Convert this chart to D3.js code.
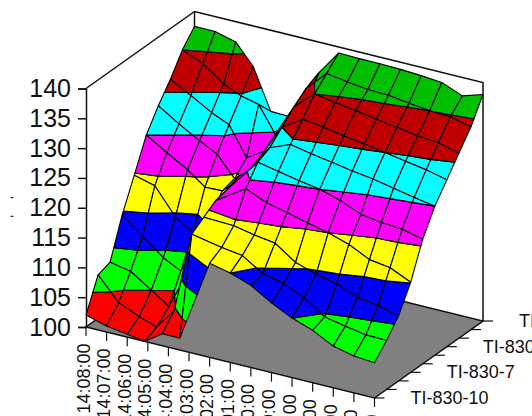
<!DOCTYPE html>
<html>
<head>
    <meta charset="utf-8">
    <title>Surface chart</title>
    <script src="https://d3js.org/d3.v7.min.js"></script>
    <style>
        html, body { margin: 0; padding: 0; background: #fff; overflow: hidden; }
        svg { display: block; }
        text { font-family: "Liberation Sans", Arial, sans-serif; fill: #111; }
    </style>
</head>
<body>
    <div id="chart"></div>
    <script>
        const timeLabels = ["14:08:00", "14:07:00", "14:06:00", "14:05:00", "14:04:00", "14:03:00", "14:02:00", "14:01:00",
            "14:00:00", "13:59:00", "13:58:00", "13:57:00", "13:56:00", "13:55:00", "13:54:00"];
        const tagLabels = ["TI-830-10", "TI-830-9", "TI-830-8", "TI-830-7", "TI-830-6", "TI-830-5", "TI-830-4", "TI-830-3", "TI-830-2", "TI-830-1"];
        const shownTags = ["TI-830-10", "TI-830-7", "TI-830-4", "TI-830-1"];
        const zTicks = [100, 105, 110, 115, 120, 125, 130, 135, 140];
        const bandColors = ["#ff0000", "#00ff00", "#0000ff", "#ffff00", "#ff00ff", "#00ffff", "#c00000", "#00c000"];

        // where the surface columns sit along the time axis, in minutes after 14:08
        const surfaceTimes = [0, 1, 2, 2.85, 3.7, 4.55, 6, 7, 8, 9, 10, 11, 12, 13, 14];

        // one array per column, values run from TI-830-10 (front) to TI-830-1 (back)
        const z1408 = [102, 107.3, 108, 114.5, 119.7, 125, 128.5, 131.5, 135, 137.5];
        const z1407 = [101, 103.5, 107.3, 111.8, 118.8, 122.9, 126.3, 129.6, 133.5, 137.5];
        const z1406 = [100.5, 102, 105, 109, 114.4, 120.9, 124.3, 127.6, 131, 136.6];
        const z1405 = [100, 101, 103, 107.5, 112.5, 118.7, 122.8, 126.3, 129.7, 133.2];
        const z1404 = [102, 104.5, 109, 113.4, 116.4, 118.8, 119.4, 121.5, 129, 126.4];
        const z1403 = [102, 118, 119.4, 120.8, 121.3, 121.5, 121.8, 123.3, 124.4, 126.3];
        const z1402 = [115.8, 117, 119.2, 124, 127, 128, 130, 132, 133.6, 134.7];
        const z1401 = [115, 116.5, 118.5, 122.5, 126.3, 129.4, 132.2, 135, 137, 139];
        const z1400 = [113.8, 114.3, 118, 121.7, 125.6, 128.7, 131.7, 134.4, 136.4, 138.9];
        const z1359 = [111.7, 113.5, 115.6, 120.8, 125, 128.1, 131.1, 133.9, 136, 138.9];
        const z1358 = [110, 112, 114.5, 120, 124, 127.5, 130.6, 133.3, 135.9, 138.8];
        const z1357 = [108.8, 109.6, 113.7, 118.9, 122.5, 127, 130, 132.8, 135.4, 138.6];
        const z1356 = [107, 108.9, 112.3, 117.2, 122, 126.3, 129.4, 132.2, 135, 138.3];
        const z1355 = [106.2, 108.3, 111.8, 116.7, 121.7, 125.6, 128.8, 131.9, 134.8, 136.9];
        const z1354 = [105.9, 108.2, 110.9, 115.1, 120.9, 125, 128, 131, 134, 138];
        const surface = [z1408, z1407, z1406, z1405, z1404, z1403, z1402, z1401, z1400, z1359, z1358, z1357, z1356, z1355, z1354];

        const width = 532, height = 416;

        const svg = d3.select("#chart").append("svg")
            .attr("width", width)
            .attr("height", height);

        // Oblique projection, every axis adds its own screen offset
        const last = timeLabels.length - 1, back = tagLabels.length - 1;
        const xTime = d3.scaleLinear().domain([0, last]).range([86, 374.5]);
        const yTime = d3.scaleLinear().domain([0, last]).range([327, 398]);
        const xTag = d3.scaleLinear().domain([0, back]).range([0, 108.5]);
        const yTag = d3.scaleLinear().domain([0, back]).range([0, -77]);
        const yZ = d3.scaleLinear().domain([100, 140]).range([0, -238.5]);

        function project(t, k, z) {
            return [xTime(t) + xTag(k), yTime(t) + yTag(k) + yZ(z)];
        }

        // back walls
        const wall = [project(0, 0, 140), project(0, back, 140), project(last, back, 140), project(last, back, 100)];
        svg.append("path")
            .attr("d", d3.line()(wall))
            .attr("fill", "none")
            .attr("stroke", "#111")
            .attr("stroke-width", 1.5);

        // floor
        const floor = [project(0, 0, 100), project(last, 0, 100), project(last, back, 100), project(0, back, 100)];
        svg.append("path")
            .attr("d", d3.line()(floor) + "Z")
            .attr("fill", "#808080")
            .attr("stroke", "#111")
            .attr("stroke-width", 1.5);

        svg.append("line")
            .attr("x1", project(0, back, 140)[0]).attr("y1", project(0, back, 140)[1])
            .attr("x2", project(0, back, 140)[0]).attr("y2", project(0, back, 137)[1])
            .attr("stroke", "#111").attr("stroke-width", 1.5);

        // z axis
        const zAxisScale = d3.scaleLinear().domain([100, 140]).range([project(0, 0, 100)[1], project(0, 0, 140)[1]]);
        const zAxis = svg.append("g")
            .attr("transform", "translate(" + project(0, 0, 100)[0] + ",0)")
            .call(d3.axisLeft(zAxisScale).tickValues(zTicks).tickSize(8).tickPadding(7));
        zAxis.selectAll("path, line").attr("stroke", "#111").attr("stroke-width", 1.5);
        zAxis.selectAll("text").style("font-size", "25px").style("font-family", "Liberation Sans").attr("fill", "#111");

        // time ticks and rotated labels, cut by the window like the original
        timeLabels.forEach(function(label, t) {
            const p = project(t, 0, 100);
            svg.append("line")
                .attr("x1", p[0]).attr("y1", p[1])
                .attr("x2", p[0]).attr("y2", p[1] + 9)
                .attr("stroke", "#111").attr("stroke-width", 1.2);
            svg.append("text")
                .attr("transform", "translate(" + (p[0] + 3.5) + "," + (p[1] + 16.5) + ") rotate(-90)")
                .attr("text-anchor", "end")
                .style("font-size", "18px")
                .text("8 " + label);
        });

        // tag ticks and every third label
        tagLabels.forEach(function(label, k) {
            const p = project(last, k, 100);
            svg.append("line")
                .attr("x1", p[0]).attr("y1", p[1])
                .attr("x2", p[0] + 10).attr("y2", p[1])
                .attr("stroke", "#111").attr("stroke-width", 1.2);
            if (shownTags.includes(label)) {
                svg.append("text")
                    .attr("x", p[0] + 36)
                    .attr("y", p[1] + 6)
                    .style("font-size", "18px")
                    .text(label);
            }
        });

        // what is left of the z axis title after the crop
        svg.append("text")
            .attr("transform", "translate(12,218) rotate(-90)")
            .style("font-size", "12px")
            .style("letter-spacing", "6px")
            .text(", ,");

        // clip a polygon [x, y, z] to z >= level or z <= level
        function clipZ(poly, level, keepAbove) {
            const out = [];
            poly.forEach(function(a, i) {
                const b = poly[(i + 1) % poly.length];
                const aIn = keepAbove ? a[2] >= level : a[2] <= level;
                const bIn = keepAbove ? b[2] >= level : b[2] <= level;
                if (aIn) out.push(a);
                if (aIn !== bIn) {
                    const f = (level - a[2]) / (b[2] - a[2]);
                    out.push([a[0] + f * (b[0] - a[0]), a[1] + f * (b[1] - a[1]), level]);
                }
            });
            return out;
        }

        const surfaceG = svg.append("g");

        // painter order: far cells first (old times and back tags)
        d3.range(last).forEach(function(t) {
            d3.range(back - 1, -1, -1).forEach(function(k) {
                const cell = [[t, k], [t + 1, k], [t + 1, k + 1], [t, k + 1]].map(function(c) {
                    const z = surface[c[0]][c[1]];
                    const p = project(surfaceTimes[c[0]], c[1], z);
                    return [p[0], p[1], z];
                });
                bandColors.forEach(function(color, b) {
                    const low = zTicks[b], high = zTicks[b + 1];
                    const piece = clipZ(clipZ(cell, low, true), high, false);
                    if (piece.length < 3) return;
                    surfaceG.append("path")
                        .attr("d", d3.line()(piece.map(function(p) { return [p[0], p[1]]; })) + "Z")
                        .attr("fill", color)
                        .attr("stroke", "#000")
                        .attr("stroke-width", 1.1)
                        .attr("stroke-linejoin", "round");
                });
            });
        });
    </script>
</body>
</html>
